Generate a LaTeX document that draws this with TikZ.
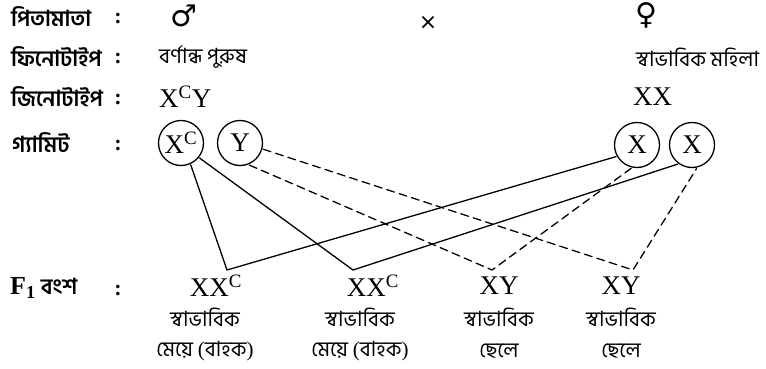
\documentclass[tikz,border=0pt]{standalone}
\usepackage{fontspec}
\setmainfont{Liberation Serif}
\newfontfamily\bn[Script=Bengali]{Hind Siliguri}
\newfontfamily\sym{DejaVu Sans}
\usetikzlibrary{positioning}
\begin{document}
\begin{tikzpicture}[x=1pt,y=-1pt,line join=round,line cap=round,
	lbl/.style={font=\bn\bfseries\fontsize{22}{26}\selectfont,anchor=west,inner sep=0pt},
	txt/.style={font=\bn\fontsize{21}{25}\selectfont,inner sep=0pt},
	gen/.style={font=\fontsize{27}{30}\selectfont,inner sep=0pt},
	gam/.style={gen,circle,draw,line width=1.3pt,minimum size=45pt,outer sep=1.5pt},
	sign/.style={font=\sym\fontsize{30}{32}\selectfont,inner sep=0pt},
	cross/.style={line width=1.3pt},
	hyb/.style={line width=1.3pt,dash pattern=on 8pt off 5pt}]
	\useasboundingbox (0,0) rectangle (766,369);
	% left column
	\node[lbl] (r1) at (11,17) {পিতামাতা};
	\node[lbl] (r2) at (11,57) {ফিনোটাইপ};
	\node[lbl] (r3) at (11,97) {জিনোটাইপ};
	\node[lbl] (r4) at (12,143) {গ্যামিট};
	\node[lbl] (r5) at (10,288) {{\rmfamily\bfseries\fontsize{26}{28}\selectfont F\textsubscript{1}} বংশ};
	\foreach \n/\y in {1/19,2/59,3/99,4/145,5/290}
	\node[font=\rmfamily\bfseries\fontsize{22}{24}\selectfont,inner sep=0pt] (c\n) at (118,\y) {:};
	% parents
	\node[sign] (male) at (184,16) {♂};
	\node[font=\sym\fontsize{22}{24}\selectfont,inner sep=0pt] (times) at (428,23) {×};
	\node[sign] (female) at (646,15) {♀};
	\node[txt,anchor=west] (pm) at (159,57) {বর্ণান্ধ পুরুষ};
	\node[txt,anchor=west] (pf) at (636,57) {স্বাভাবিক মহিলা};
	\node[gen,anchor=west] (gm) at (159,97) {X\textsuperscript{C}Y};
	\node[gen,anchor=west] (gf) at (633,97) {XX};
	% gametes
	\node[gam] (xc) at (181,143) {X\textsuperscript{C}};
	\node[gam] (yy) at (240,143) {Y};
	\node[gam] (x1) at (637,145) {X};
	\node[gam] (x2) at (692,145) {X};
	% F1
	\foreach \n/\c/\gx/\g/\s in {1/205/216/XX\textsuperscript{C}/মেয়ে {\rmfamily(}বাহক{\rmfamily)},
		2/360/373/XX\textsuperscript{C}/মেয়ে {\rmfamily(}বাহক{\rmfamily)},
		3/499/499/XY/ছেলে,4/621/621/XY/ছেলে}{
		\node[gen] (g\n) at (\gx,286) {\g};
		\node[txt] (p\n) at (\c,317) {স্বাভাবিক};
		\node[txt] (s\n) at (\c,351) {\s};
	}
	\coordinate (m1) at (227,270);
	\coordinate (m2) at (353,270);
	\coordinate (m3) at (492,270);
	\coordinate (m4) at (633,270);
	\draw[cross] (xc.-66) -- (m1) -- (x1.209);
	\draw[cross] (xc.-39) -- (m2) -- (x2.233);
	\draw[hyb] (yy.-67) -- (m3) -- (x1.256);
	\draw[hyb] (yy.-15) -- (m4) -- (x2.281);
\end{tikzpicture}
\end{document}
